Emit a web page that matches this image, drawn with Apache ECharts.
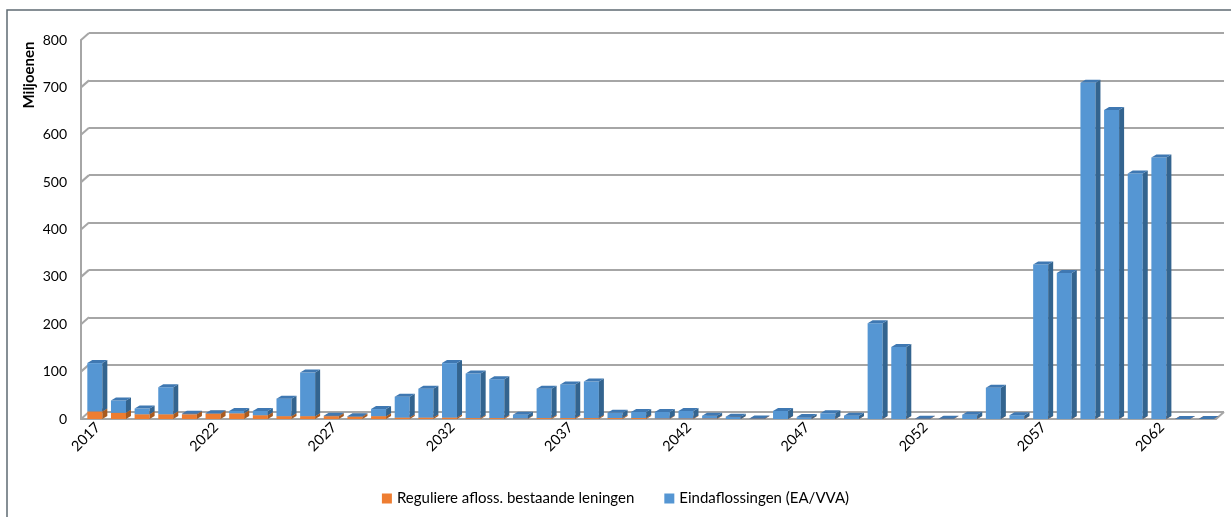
<!DOCTYPE html>
<html><head><meta charset="utf-8">
<script src="https://cdn.jsdelivr.net/npm/echarts@6/dist/echarts.min.js"></script>
<style>html,body{margin:0;padding:0;background:#fff}#c{width:1231px;height:517px}</style>
</head><body><div id="c"></div>
<script>
const years = ['2017','2018','2019','2020','2021','2022','2023','2024','2025','2026',
  '2027','2028','2029','2030','2031','2032','2033','2034','2035','2036',
  '2037','2038','2039','2040','2041','2042','2043','2044','2045','2046',
  '2047','2048','2049','2050','2051','2052','2053','2054','2055','2056',
  '2057','2058','2059','2060','2061','2062','2063','2064'];
const yTicks = [0,100,200,300,400,500,600,700,800];
const regulier = [16,13,10,10,10,11,12,8,6,6,
  6,5,6,3,3,3,2,2,1,2,
  2,2,2,2,1,1,1,0,0,0,
  0,0,0,0,0,0,0,0,0,0,
  0,0,0,0,0,0,0,0];
const eind = [102,26,12,57,1,1,5,9,37,92,
  1,1,15,44,61,115,94,82,8,62,
  71,77,11,13,14,16,6,5,1,17,
  4,12,7,202,152,0.5,0.5,9,66,8,
  326,308,710,652,518,552,0,0];
const seriesNames = ['Reguliere afloss. bestaande leningen','Eindaflossingen (EA/VVA)'];
const orangeCols = ['#EE7D31','#A95A1F','#D36C29'];
const blueCols = ['#5596D3','#33648F','#3F78B2'];
const FONT = 'Lato';
const GRID_COL = '#A6A6A6';

function barSeg(cols){
  return function(params, api){
    const i = api.value(0), s = api.value(1), e = api.value(2);
    const band = api.size([1,0])[0];
    const w = band*0.635;
    const c = api.coord([i,0]);
    const x0 = c[0] - w/2 + 2;
    const yB = api.coord([i,s])[1];
    const yT = api.coord([i,e])[1];
    const dx = 5, dy = -3;
    return {type:'group', children:[
      {type:'rect', shape:{x:x0,y:yT,width:w,height:Math.max(yB-yT,0)}, style:{fill:cols[0]}},
      {type:'polygon', shape:{points:[[x0+w,yT],[x0+w+dx,yT+dy],[x0+w+dx,yB+dy],[x0+w,yB]]}, style:{fill:cols[1]}},
      {type:'polygon', shape:{points:[[x0,yT],[x0+dx,yT+dy],[x0+w+dx,yT+dy],[x0+w,yT]]}, style:{fill:cols[2]}}
    ]};
  };
}

const wallData = yTicks.map(v=>[0,v,0]).concat([[years.length-1,0,1]]);

const chart = echarts.init(document.getElementById('c'));
chart.setOption({
  animation:false,
  backgroundColor:'#fff',
  graphic:[
    {type:'rect', shape:{x:7,y:10,width:1400,height:700}, style:{fill:null, stroke:'#5F6B73', lineWidth:1.5}, silent:true},
    {type:'text', x:29, y:75, rotation:Math.PI/2, style:{text:'Miljoenen', font:'bold 15px Lato', fill:'#000', align:'center', verticalAlign:'middle'}}
  ],
  grid:[
    {left:81, right:15, top:40, bottom:98},
    {left:89, right:7, top:33, bottom:105}
  ],
  legend:{
    bottom:6, left:'center', icon:'rect', itemWidth:10, itemHeight:10, itemGap:30,
    textStyle:{fontFamily:FONT, fontSize:15, color:'#000'},
    data:seriesNames
  },
  xAxis:[
    {type:'category', gridIndex:0, data:years, boundaryGap:true,
     axisLine:{show:true, lineStyle:{color:GRID_COL, width:2}}, axisTick:{show:false},
     axisLabel:{interval:4, rotate:45, margin:11, padding:[0,-7,0,0], fontFamily:FONT, fontSize:14.5, color:'#000'}},
    {type:'category', gridIndex:1, data:years, show:false}
  ],
  yAxis:[
    {type:'value', gridIndex:0, min:0, max:800, interval:100,
     axisLine:{show:true, lineStyle:{color:GRID_COL, width:2}}, axisTick:{show:false},
     splitLine:{show:false},
     axisLabel:{margin:14, fontFamily:FONT, fontSize:14, color:'#000'}},
    {type:'value', gridIndex:1, min:0, max:800, interval:100,
     axisLine:{show:false}, axisTick:{show:false}, axisLabel:{show:false},
     splitLine:{show:true, lineStyle:{color:GRID_COL, width:2}}}
  ],
  series:[
    {type:'custom', name:'wall', xAxisIndex:0, yAxisIndex:0, silent:true, z:1,
     data:wallData, encode:{x:0,y:1},
     renderItem:function(params, api){
       const band = api.size([1,0])[0];
       const c = api.coord([api.value(0), api.value(1)]);
       const x = api.value(2) ? c[0]+band/2 : c[0]-band/2;
       return {type:'line', shape:{x1:x,y1:c[1],x2:x+8,y2:c[1]-7}, style:{stroke:GRID_COL, lineWidth:2}};
     }},
    {type:'custom', name:seriesNames[0], xAxisIndex:0, yAxisIndex:0, z:3,
     itemStyle:{color:orangeCols[0]},
     data:regulier.map((v,i)=>[i,0,v]), encode:{x:0,y:[1,2]},
     renderItem:barSeg(orangeCols)},
    {type:'custom', name:seriesNames[1], xAxisIndex:0, yAxisIndex:0, z:4,
     itemStyle:{color:blueCols[0]},
     data:eind.map((v,i)=>[i,regulier[i],regulier[i]+v]), encode:{x:0,y:[1,2]},
     renderItem:barSeg(blueCols)}
  ]
});
</script></body></html>
